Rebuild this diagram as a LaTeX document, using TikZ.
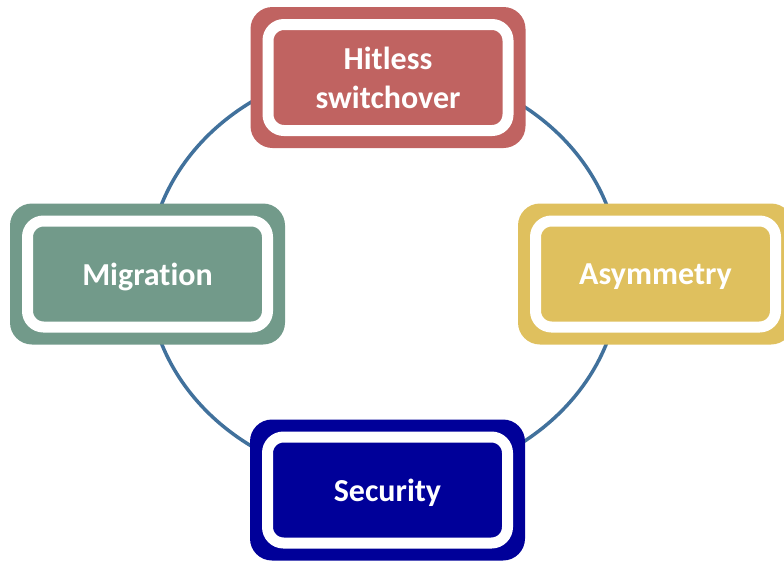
\documentclass[tikz,border=0pt]{standalone}
\usepackage{fontspec}
\setmainfont[Ligatures=NoCommon]{Carlito}
\definecolor{cred}{RGB}{192,99,97}
\definecolor{cgreen}{RGB}{114,154,138}
\definecolor{cyellow}{RGB}{223,192,94}
\definecolor{cblue}{RGB}{0,0,153}
\definecolor{cline}{RGB}{65,113,156}
\tikzset{
  outerbox/.style={fill=#1, draw=none, minimum width=275pt, minimum height=141pt, rounded corners=22pt, inner sep=0pt},
  innerbox/.style={fill=#1, draw=white, line width=11pt, minimum width=240pt, minimum height=106pt, rounded corners=16pt, inner sep=0pt,
    text=white, font=\fontsize{32}{39}\selectfont\bfseries, align=center, text depth=0pt},
  ring/.style={draw=cline, line width=3.5pt}
}
\begin{document}
\begin{tikzpicture}[x=1pt,y=-1pt]
\useasboundingbox (0,0) rectangle (784,560);
\clip (0,0) rectangle (784,560);
\coordinate (c) at (384,274);
\draw[ring] (c) ellipse [x radius=236pt, y radius=208pt];
\node[outerbox=cred] (topo) at (388,77.5) {};
\node[innerbox=cred] (top) at (topo) {Hitless\\switchover};
\node[outerbox=cgreen] (lefto) at (147.5,274) {};
\node[innerbox=cgreen] (left) at (lefto) {Migration};
\node[outerbox=cyellow] (righto) at (655.5,274) {};
\node[innerbox=cyellow] (right) at (righto) {Asymmetry};
\node[outerbox=cblue] (boto) at (387.5,490) {};
\node[innerbox=cblue] (bot) at (boto) {Security};
\end{tikzpicture}
\end{document}
